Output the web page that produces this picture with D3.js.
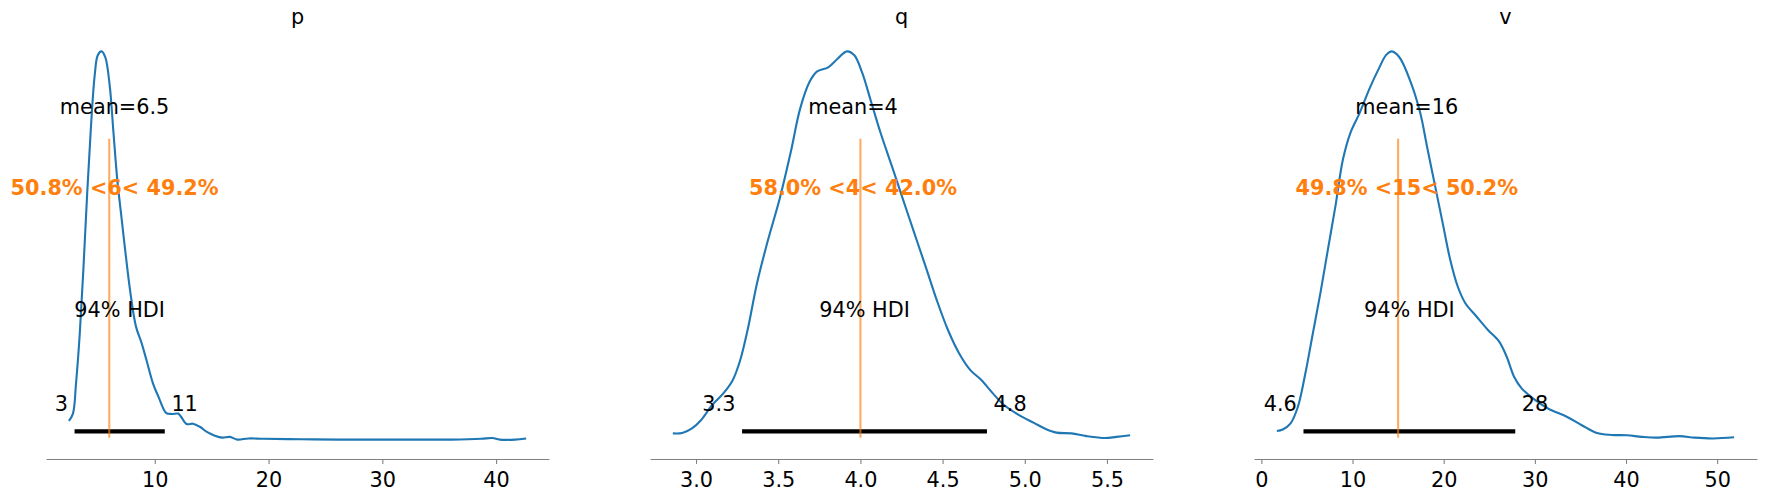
<!DOCTYPE html>
<html>
<head>
<meta charset="utf-8">
<script src="https://cdn.jsdelivr.net/npm/d3@7"></script>
<style>
  body { margin: 0; background: white; }
  text { font-family: 'DejaVu Sans', sans-serif; }
</style>
</head>
<body>
<div id="chart"></div>
<script>
// posterior densities, scaled so each peak = 1
const names = ['p', 'q', 'v']

const pX = [2.45, 2.81, 3.08, 3.41, 3.74, 4.07, 4.39, 4.72, 4.99, 5.32, 5.65, 6.04, 6.37, 6.70, 7.03, 7.36, 7.86, 8.35, 8.85, 9.27, 9.84, 10.33, 10.99, 11.48, 12.04, 12.31, 12.80, 13.36, 13.96, 14.62, 15.28, 15.93, 16.59, 17.25, 18.24, 19.56, 22.86, 26.16, 29.45, 32.75, 36.05, 38.69, 39.67, 40.33, 41.65, 42.64]
const pDensity = [0.048, 0.067, 0.145, 0.274, 0.447, 0.64, 0.805, 0.938, 0.99, 1.0, 0.985, 0.912, 0.791, 0.671, 0.584, 0.498, 0.378, 0.291, 0.248, 0.205, 0.145, 0.110, 0.069, 0.066, 0.067, 0.059, 0.040, 0.041, 0.033, 0.019, 0.010, 0.005, 0.007, 0.0, 0.003, 0.002, 0.001, 0, 0, 0, 0, 0.002, 0.004, 0, 0, 0.003]

const qX = [2.859, 2.916, 2.973, 3.030, 3.098, 3.166, 3.223, 3.269, 3.314, 3.371, 3.439, 3.508, 3.576, 3.633, 3.690, 3.735, 3.804, 3.861, 3.918, 3.963, 4.009, 4.066, 4.122, 4.191, 4.259, 4.327, 4.396, 4.464, 4.532, 4.601, 4.669, 4.737, 4.806, 4.874, 4.965, 5.056, 5.124, 5.193, 5.284, 5.375, 5.489, 5.557, 5.641]
const qDensity = [0.016, 0.017, 0.028, 0.05, 0.089, 0.119, 0.153, 0.205, 0.283, 0.403, 0.516, 0.619, 0.740, 0.852, 0.921, 0.948, 0.959, 0.981, 1.0, 0.99, 0.947, 0.869, 0.791, 0.705, 0.619, 0.533, 0.447, 0.360, 0.283, 0.222, 0.179, 0.153, 0.119, 0.089, 0.063, 0.043, 0.028, 0.018, 0.016, 0.009, 0.004, 0.007, 0.011]

const vX = [1.7, 2.35, 3.18, 4.00, 4.83, 5.65, 6.48, 7.30, 8.13, 8.95, 9.78, 10.81, 11.84, 12.87, 13.70, 14.31, 15.14, 16.38, 17.41, 18.23, 19.06, 19.88, 20.71, 21.53, 22.36, 23.60, 24.83, 26.07, 26.90, 27.72, 28.55, 29.79, 31.44, 33.50, 35.15, 36.80, 38.45, 40.10, 41.75, 43.40, 45.87, 47.52, 49.59, 51.86]
const vDensity = [0.022, 0.026, 0.041, 0.084, 0.171, 0.274, 0.378, 0.490, 0.602, 0.722, 0.791, 0.843, 0.903, 0.955, 0.991, 1.0, 0.985, 0.921, 0.843, 0.748, 0.653, 0.559, 0.464, 0.395, 0.352, 0.317, 0.283, 0.253, 0.214, 0.162, 0.132, 0.106, 0.080, 0.059, 0.037, 0.017, 0.012, 0.011, 0.007, 0.005, 0.009, 0.005, 0.003, 0.006]

const means = [6.47, 3.955, 15.95]
const meanLabels = ['6.5', '4', '16']
const refVals = [6, 4, 15]
const pctBelow = [50.8, 58.0, 49.8]
const pctAbove = [49.2, 42.0, 50.2]
const hdiLow = [2.95, 3.28, 4.62]
const hdiHigh = [10.88, 4.77, 27.85]
const hdiLowLabels = ['3', '3.3', '4.6']
const hdiHighLabels = ['11', '4.8', '28']

const pTicks = [10, 20, 30, 40]
const qTicks = [3.0, 3.5, 4.0, 4.5, 5.0, 5.5]
const vTicks = [0, 10, 20, 30, 40, 50]

const xs = [pX, qX, vX]
const densities = [pDensity, qDensity, vDensity]
const ticks = [pTicks, qTicks, vTicks]
const tickFormats = [d3.format('d'), d3.format('.1f'), d3.format('d')]

const width = 1766
const height = 497
const marginLeft = 46
const panelWidth = 503
const panelStep = 604
const axTop = 32
const axBottom = 459
const labelSize = 20.8
const tickSize = 20.8

const svg = d3.select('#chart')
              .append('svg')
              .attr('width', width)
              .attr('height', height)

names.forEach((name, i) => {
    const data = xs[i].map((x, j) => ({x: x, d: densities[i][j]}))
    const [lo, hi] = d3.extent(xs[i])
    const pad = (hi - lo) * 0.05
    const left = marginLeft + i * panelStep

    const x = d3.scaleLinear()
                .domain([lo - pad, hi + pad])
                .range([left, left + panelWidth])

    const y = d3.scaleLinear()
                .domain([-0.05, 1.05])
                .range([axBottom, axTop])

    const plotHeight = y.domain()[1]
    const g = svg.append('g')

    // kde
    g.append('path')
     .datum(data)
     .attr('fill', 'none')
     .attr('stroke', '#1f77b4')
     .attr('stroke-width', 2.1)
     .attr('d', d3.line().x(d => x(d.x)).y(d => y(d.d)).curve(d3.curveCatmullRom))

    // hdi bar
    g.append('line')
     .attr('x1', x(hdiLow[i]))
     .attr('x2', x(hdiHigh[i]))
     .attr('y1', y(plotHeight * 0.02))
     .attr('y2', y(plotHeight * 0.02))
     .attr('stroke', 'black')
     .attr('stroke-width', 4.2)

    // reference line
    const yAx = d3.scaleLinear().domain([0, 1]).range([axBottom, axTop])
    g.append('line')
     .attr('x1', x(refVals[i]))
     .attr('x2', x(refVals[i]))
     .attr('y1', yAx(0.05))
     .attr('y2', yAx(0.75))
     .attr('stroke', '#ff7f0e')
     .attr('stroke-opacity', 0.65)
     .attr('stroke-width', 2.1)

    g.append('text')
     .attr('x', x(means[i]))
     .attr('y', y(plotHeight * 0.8))
     .attr('text-anchor', 'middle')
     .attr('font-size', labelSize)
     .text(`mean=${meanLabels[i]}`)

    g.append('text')
     .attr('x', x(means[i]))
     .attr('y', y(plotHeight * 0.6))
     .attr('text-anchor', 'middle')
     .attr('font-size', labelSize)
     .attr('font-weight', 'bold')
     .attr('fill', '#ff7f0e')
     .text(`${pctBelow[i].toFixed(1)}% <${refVals[i]}< ${pctAbove[i].toFixed(1)}%`)

    g.append('text')
     .attr('x', x((hdiLow[i] + hdiHigh[i]) / 2))
     .attr('y', y(plotHeight * 0.3))
     .attr('text-anchor', 'middle')
     .attr('font-size', labelSize)
     .text('94% HDI')

    // bound labels sit just outside the bar ends
    g.append('text')
     .attr('x', x(hdiLow[i]))
     .attr('y', y(plotHeight * 0.07))
     .attr('dx', '-0.318em')
     .attr('text-anchor', 'end')
     .attr('font-size', labelSize)
     .text(hdiLowLabels[i])

    g.append('text')
     .attr('x', x(hdiHigh[i]))
     .attr('y', y(plotHeight * 0.07))
     .attr('dx', '0.318em')
     .attr('text-anchor', 'start')
     .attr('font-size', labelSize)
     .text(hdiHighLabels[i])

    // title
    g.append('text')
     .attr('x', left + panelWidth / 2)
     .attr('y', axTop - 8.3)
     .attr('text-anchor', 'middle')
     .attr('font-size', labelSize)
     .text(name)

    const axis = g.append('g')
                  .attr('transform', `translate(0, ${axBottom})`)
                  .call(d3.axisBottom(x).tickValues(ticks[i]).tickFormat(tickFormats[i])
                          .tickSize(4.9).tickSizeOuter(0).tickPadding(8.5))

    axis.selectAll('path, line')
        .attr('stroke', '#808080')
        .attr('stroke-width', 1.1)

    axis.selectAll('text')
        .attr('font-size', tickSize)
        .attr('font-family', 'DejaVu Sans')
        .attr('fill', 'black')
})
</script>
</body>
</html>
